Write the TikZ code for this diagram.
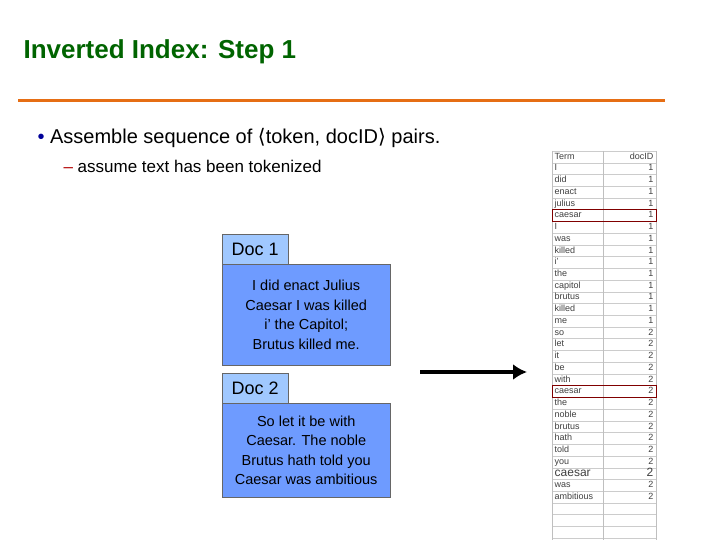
\documentclass[tikz,border=0pt]{standalone}
\usepackage{fontspec}
\usetikzlibrary{arrows.meta}
\setmainfont{Liberation Sans}
\newfontfamily\dejavu{DejaVu Sans}
\begin{document}
\begin{tikzpicture}[x=1pt,y=-1pt,
  lbl/.style={draw=black!60,anchor=north west,minimum width=66pt,minimum height=30pt,inner sep=0pt,font=\fontsize{18}{20}\selectfont},
  content/.style={draw=black!60,fill={rgb,255:red,110;green,155;blue,255},anchor=north west,minimum width=168pt,inner sep=0pt,align=center,font=\fontsize{14.5}{19.5}\selectfont},
  cell/.style={font=\fontsize{9}{9}\selectfont,text=black!75,inner sep=1.5pt,text height=6.5pt,text depth=1.8pt}]
\useasboundingbox (0,0) rectangle (720,540);
\node[anchor=west,font=\bfseries\fontsize{26}{28}\selectfont,text={rgb,255:red,0;green,100;blue,0}] (title) at (20,52) {Inverted Index: Step 1};
\draw[line width=3pt,draw={rgb,255:red,230;green,110;blue,20}] (18,101) -- (665,101);
\node[anchor=west,font=\fontsize{20}{22}\selectfont] (b1) at (34,138) {\textcolor{blue!60!black}{\textbullet}\ Assemble sequence of {\dejavu⟨}token, docID{\dejavu⟩} pairs.};
\node[anchor=west,font=\fontsize{17}{19}\selectfont] (b2) at (60,166) {\textcolor{red!70!black}{–}\ assume text has been tokenized};
% docs
\node[lbl,fill={rgb,255:red,160;green,200;blue,255}] (d1l) at (222,234) {Doc 1};
\node[content,minimum height=101pt] (d1) at (222,264) {I did enact Julius\\Caesar I was killed\\i' the Capitol;\\Brutus killed me.};
\node[lbl,fill={rgb,255:red,160;green,200;blue,255}] (d2l) at (222,373) {Doc 2};
\node[content,minimum height=94pt] (d2) at (222,403) {So let it be with\\Caesar. The noble\\Brutus hath told you\\Caesar was ambitious};
% arrow
\coordinate (as) at (420,372);
\coordinate (ae) at (527,372);
\draw[line width=4pt,-{Latex[length=14pt,width=16pt]}] (as) -- (ae);
% table
\def\rh{11.73}
\fill[white] (552,151) rectangle (656,540);
\foreach \i in {0,...,33} {\draw[black!20] (552,151+\i*\rh) -- (656,151+\i*\rh);}
\draw[black!25] (552,151) -- (552,540) (603,151) -- (603,540) (656,151) -- (656,540);
\node[cell,anchor=west] (th1) at (553,151+0.5*\rh) {Term};
\node[cell,anchor=east] (th2) at (655,151+0.5*\rh) {docID};
\foreach [count=\i] \t/\d in {I/1,did/1,enact/1,julius/1,caesar/1,I/1,was/1,killed/1,i'/1,the/1,capitol/1,brutus/1,killed/1,me/1,so/2,let/2,it/2,be/2,with/2,caesar/2,the/2,noble/2,brutus/2,hath/2,told/2,you/2,caesar/2,was/2,ambitious/2} {
  \ifnum\i=27
    \node[cell,anchor=west,font=\fontsize{12}{12}\selectfont,text height=8pt] (t\i) at (553,151+\i*\rh+0.5*\rh) {\t};
    \node[cell,anchor=east,font=\fontsize{12}{12}\selectfont,text height=8pt] (n\i) at (655,151+\i*\rh+0.5*\rh) {\d};
  \else
    \node[cell,anchor=west] (t\i) at (553,151+\i*\rh+0.5*\rh) {\t};
    \node[cell,anchor=east] (n\i) at (655,151+\i*\rh+0.5*\rh) {\d};
  \fi
}
\draw[red!50!black,line width=0.8pt] (552,151+5*\rh) rectangle (656,151+6*\rh);
\draw[red!50!black,line width=0.8pt] (552,151+20*\rh) rectangle (656,151+21*\rh);
\end{tikzpicture}
\end{document}
